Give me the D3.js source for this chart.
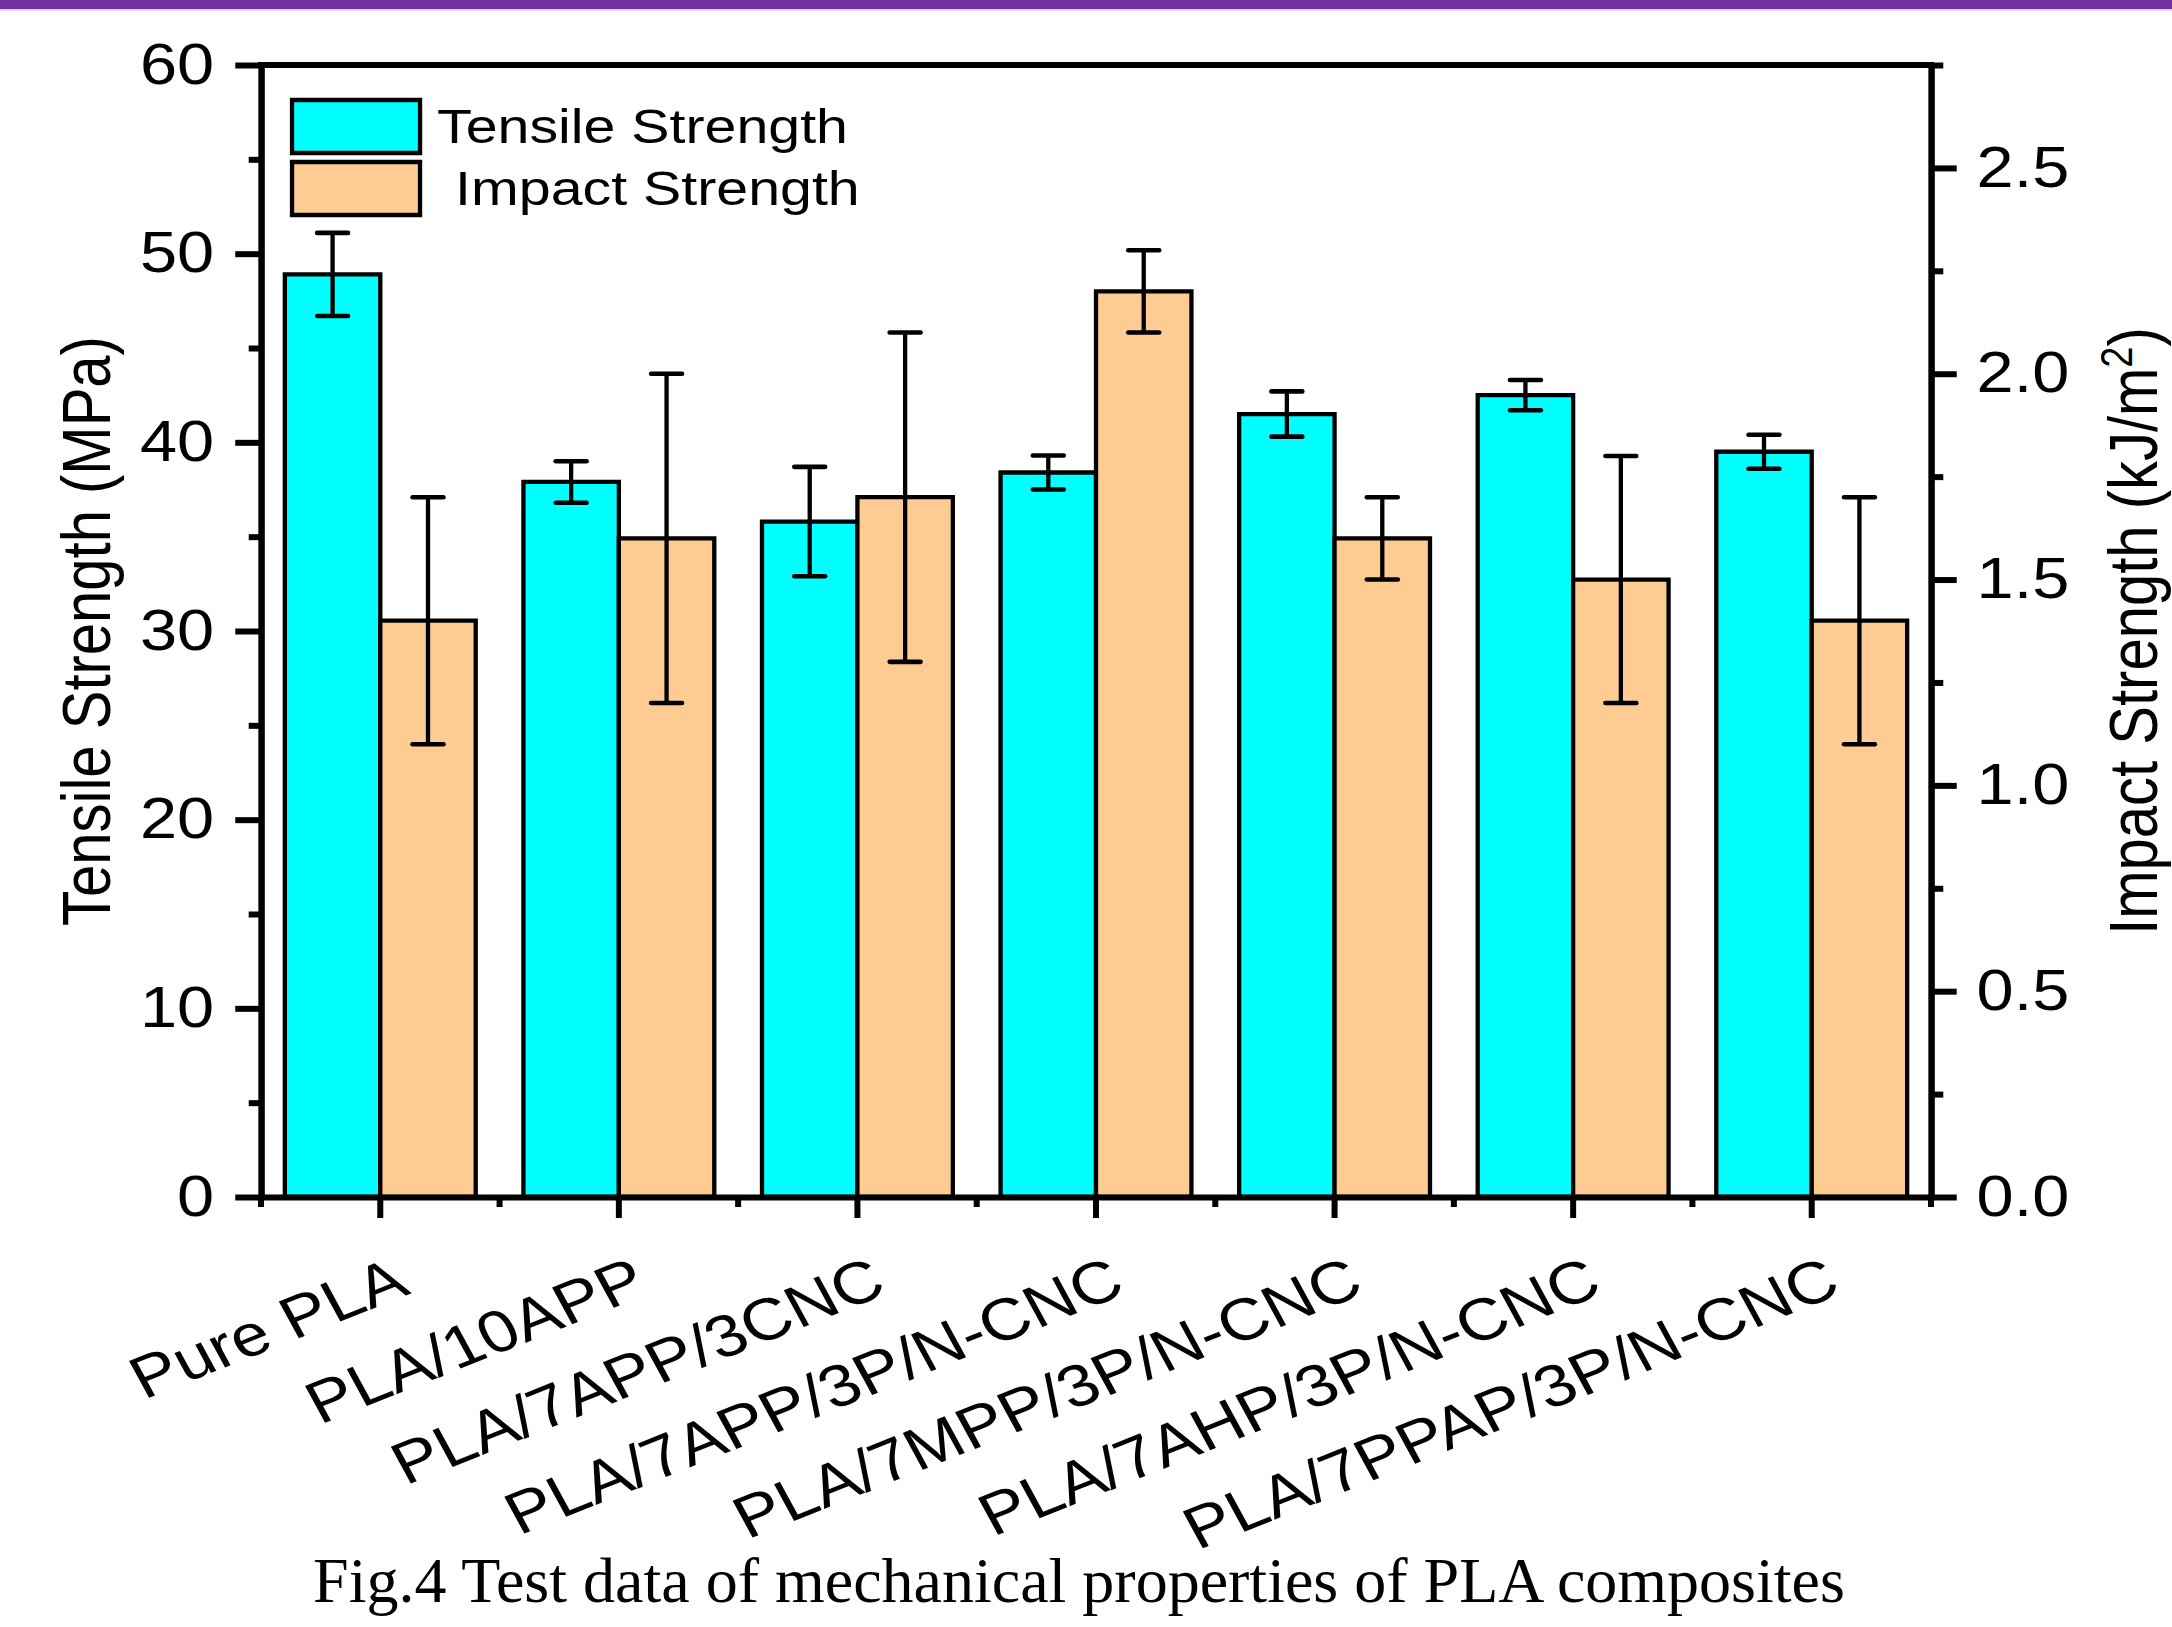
<!DOCTYPE html>
<html lang="en">
  <head>
    <meta charset="UTF-8" />
    <title>Fig.4 Test data of mechanical properties of PLA composites</title>
    <script src="https://cdnjs.cloudflare.com/ajax/libs/d3/7.8.5/d3.min.js"></script>
    <style>
      html, body { margin: 0; padding: 0; background: #fff; }
      svg { display: block; }
      .chart text { font-family: Arial, "Liberation Sans", sans-serif; fill: #000; }
      .chart line, .chart path, .chart rect { vector-effect: non-scaling-stroke; }
      .axis path, .axis line { stroke: #000; stroke-width: 6; }
      .caption { font-family: "Times New Roman", "Liberation Serif", serif; }
    </style>
  </head>
  <body>
    <svg width="2172" height="1627"></svg>
    <script>
      // 数据
      const categories = [
        "Pure PLA",
        "PLA/10APP",
        "PLA/7APP/3CNC",
        "PLA/7APP/3P/N-CNC",
        "PLA/7MPP/3P/N-CNC",
        "PLA/7AHP/3P/N-CNC",
        "PLA/7PPAP/3P/N-CNC"
      ];
      const tensile = [48.9, 37.9, 35.8, 38.4, 41.5, 42.5, 39.5];
      const tensileErr = [2.2, 1.1, 2.9, 0.9, 1.2, 0.8, 0.9];
      const impact = [1.4, 1.6, 1.7, 2.2, 1.6, 1.5, 1.4];
      const impactErr = [0.3, 0.4, 0.4, 0.1, 0.1, 0.3, 0.3];
      const leftTicks = [0, 10, 20, 30, 40, 50, 60];
      const leftMinor = [5, 15, 25, 35, 45, 55];
      const rightTicks = [0, 0.5, 1.0, 1.5, 2.0, 2.5];
      const rightMinor = [0.25, 0.75, 1.25, 1.75, 2.25, 2.75];

      const colors = { t: "#00FFFF", i: "#FECC92" };

      // 原图横向被拉伸，整体按 sx 缩放
      const sx = 1.17;
      const plotL = 261 / sx, plotR = 1931 / sx;
      const plotT = 65, plotB = 1197;

      const svg = d3.select("svg");

      // 顶部紫色条
      svg.append("rect").attr("width", 2172).attr("height", 9).attr("fill", "#7030A0");
      svg.append("rect").attr("y", 9).attr("width", 2172).attr("height", 2).attr("fill", "#e4d4f2");

      const g = svg.append("g").attr("class", "chart").attr("transform", `scale(${sx},1)`);

      const x0 = d3.scaleBand().domain(categories).range([plotL, plotR])
        .paddingInner(0.2).paddingOuter(0.1);
      const x1 = d3.scaleBand().domain(["t", "i"]).range([0, x0.bandwidth()]);
      const yL = d3.scaleLinear().domain([0, 60]).range([plotB, plotT]);
      const yR = d3.scaleLinear().domain([0, 2.75]).range([plotB, plotT]);

      const rows = categories.map((c, k) => ({
        c, t: tensile[k], te: tensileErr[k], i: impact[k], ie: impactErr[k]
      }));

      // 柱
      const grp = g.selectAll(".grp").data(rows).join("g")
        .attr("transform", d => `translate(${x0(d.c)},0)`);
      grp.append("rect")
        .attr("x", x1("t")).attr("width", x1.bandwidth())
        .attr("y", d => yL(d.t)).attr("height", d => yL(0) - yL(d.t))
        .attr("fill", colors.t).attr("stroke", "#000").attr("stroke-width", 4.3);
      grp.append("rect")
        .attr("x", x1("i")).attr("width", x1.bandwidth())
        .attr("y", d => yR(d.i)).attr("height", d => yR(0) - yR(d.i))
        .attr("fill", colors.i).attr("stroke", "#000").attr("stroke-width", 4.3);

      // 误差线
      const cap = 13.2;
      function errBar(sel, key, scale, v, e) {
        const cx = x1(key) + x1.bandwidth() / 2;
        sel.append("line").attr("x1", cx).attr("x2", cx)
          .attr("y1", d => scale(d[v] + d[e])).attr("y2", d => scale(d[v] - d[e]))
          .attr("stroke", "#000").attr("stroke-width", 4.3);
        [1, -1].forEach(s => {
          sel.append("line").attr("x1", cx - cap).attr("x2", cx + cap)
            .attr("y1", d => scale(d[v] + s * d[e])).attr("y2", d => scale(d[v] + s * d[e]))
            .attr("stroke", "#000").attr("stroke-width", 4.6).attr("stroke-linecap", "round");
        });
      }
      errBar(grp, "t", yL, "t", "te");
      errBar(grp, "i", yR, "i", "ie");

      // 坐标轴
      const fs = 57;
      g.append("g").attr("class", "axis").attr("transform", `translate(${plotL},0)`)
        .call(d3.axisLeft(yL).tickValues(leftTicks).tickSize(22).tickSizeOuter(0).tickPadding(18))
        .call(a => a.selectAll("text").attr("font-size", fs));
      g.append("g").attr("class", "axis").attr("transform", `translate(${plotL},0)`)
        .call(d3.axisLeft(yL).tickValues(leftMinor).tickSize(10.5).tickSizeOuter(0).tickFormat(""));

      g.append("g").attr("class", "axis").attr("transform", `translate(${plotR},0)`)
        .call(d3.axisRight(yR).tickValues(rightTicks).tickSize(22).tickSizeOuter(0)
          .tickPadding(17).tickFormat(d3.format(".1f")))
        .call(a => a.selectAll("text").attr("font-size", fs));
      g.append("g").attr("class", "axis").attr("transform", `translate(${plotR},0)`)
        .call(d3.axisRight(yR).tickValues(rightMinor).tickSize(10.5).tickSizeOuter(0).tickFormat(""));

      g.append("g").attr("class", "axis").attr("transform", `translate(0,${plotB})`)
        .call(d3.axisBottom(x0).tickSize(21).tickSizeOuter(0).tickFormat(""));
      const bounds = d3.range(categories.length + 1).map(k => plotL + k * x0.step());
      g.append("g").attr("class", "axis").selectAll("line").data(bounds).join("line")
        .attr("x1", d => d).attr("x2", d => d).attr("y1", plotB).attr("y2", plotB + 10);

      g.append("g").attr("class", "axis").append("line")
        .attr("x1", plotL - 3 / sx).attr("x2", plotR + 3 / sx).attr("y1", plotT).attr("y2", plotT);

      // 分类标签
      g.append("g").selectAll("text").data(categories).join("text")
        .attr("transform", d => `translate(${x0(d) + x0.bandwidth() / 2 + 27},1293) rotate(-25)`)
        .attr("text-anchor", "end").attr("font-size", 59).text(d => d);

      // 轴标题
      g.append("text").attr("transform", `translate(94,631) rotate(-90)`)
        .attr("text-anchor", "middle").attr("font-size", 58).text("Tensile Strength (MPa)");
      const rt = g.append("text").attr("transform", `translate(1844,631) rotate(-90)`)
        .attr("text-anchor", "middle").attr("font-size", 58);
      rt.append("tspan").text("Impact Strength (kJ/m");
      rt.append("tspan").attr("font-size", 38).attr("dy", -22).text("2");
      rt.append("tspan").attr("dy", 22).text(")");

      // 图例
      const legend = [
        { label: "Tensile Strength", color: colors.t, y: 100, tx: 373.5 },
        { label: "Impact Strength", color: colors.i, y: 162, tx: 389 }
      ];
      const lg = g.append("g").selectAll("g").data(legend).join("g");
      lg.append("rect").attr("x", 249.6).attr("y", d => d.y)
        .attr("width", 109.4).attr("height", 53)
        .attr("fill", d => d.color).attr("stroke", "#000").attr("stroke-width", 4.3);
      lg.append("text").attr("x", d => d.tx).attr("y", d => d.y + 43)
        .attr("font-size", 49).text(d => d.label);

      // 图注
      svg.append("text").attr("class", "caption")
        .attr("x", 1079).attr("y", 1602).attr("text-anchor", "middle")
        .attr("font-size", 64).text("Fig.4 Test data of mechanical properties of PLA composites");
    </script>
  </body>
</html>
